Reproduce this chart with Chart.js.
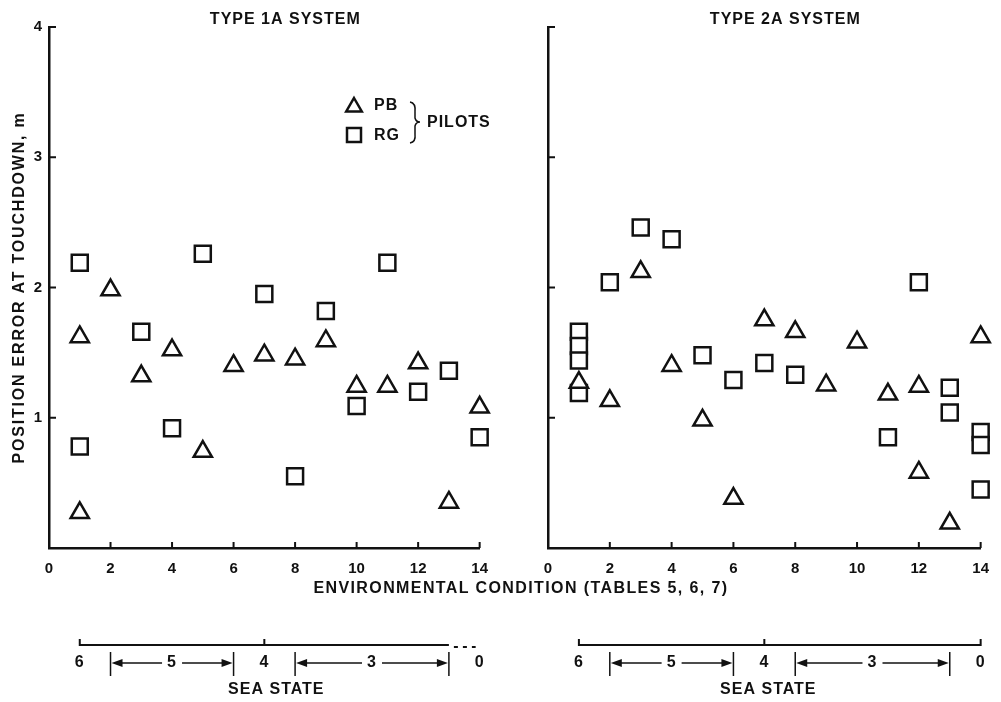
<!DOCTYPE html>
<html>
<head>
<meta charset="utf-8">
<script src="https://cdn.jsdelivr.net/npm/chart.js@4.4.1/dist/chart.umd.min.js"></script>
<style>
  body { margin: 0; background: #fff; }
  #wrap { position: relative; width: 1001px; height: 702px; overflow: hidden; background: #fff; }
  canvas { position: absolute; top: 0; }
  #xTitle { position: absolute; left: 0; width: 1042px; top: 579px; text-align: center;
            font: bold 16px "Liberation Sans", sans-serif; letter-spacing: 1.4px; color: #111; line-height: 18px; }
</style>
</head>
<body>
<div id="wrap">
  <canvas id="leftChart" width="500" height="702" style="left:0"></canvas>
  <canvas id="rightChart" width="501" height="702" style="left:500px"></canvas>
  <div id="xTitle">ENVIRONMENTAL CONDITION (TABLES 5, 6, 7)</div>
</div>
<script>
// tick values shared by both panels
const xTicks = [0, 2, 4, 6, 8, 10, 12, 14];
const yTicks = [0, 1, 2, 3, 4];
const panelTitles = ['TYPE 1A SYSTEM', 'TYPE 2A SYSTEM'];
const yTitle = 'POSITION ERROR AT TOUCHDOWN, m';
const seriesNames = ['PB', 'RG'];

// Type 1A system
const type1PbX = [1, 1, 2, 3, 4, 5, 6, 7, 8, 9, 10, 11, 12, 13, 14];
const type1PbY = [1.62, 0.27, 1.98, 1.32, 1.52, 0.74, 1.40, 1.48, 1.45, 1.59, 1.24, 1.24, 1.42, 0.35, 1.08];
const type1RgX = [1, 1, 3, 4, 5, 7, 8, 9, 10, 11, 12, 13, 14];
const type1RgY = [2.19, 0.78, 1.66, 0.92, 2.26, 1.95, 0.55, 1.82, 1.09, 2.19, 1.20, 1.36, 0.85];

// Type 2A system
const type2PbX = [1, 2, 3, 4, 5, 6, 7, 8, 9, 10, 11, 12, 12, 13, 14];
const type2PbY = [1.27, 1.13, 2.12, 1.40, 0.98, 0.38, 1.75, 1.66, 1.25, 1.58, 1.18, 1.24, 0.58, 0.19, 1.62];
const type2RgX = [1, 1, 1, 1, 2, 3, 4, 5, 6, 7, 8, 11, 12, 13, 13, 14, 14, 14];
const type2RgY = [1.66, 1.55, 1.44, 1.19, 2.04, 2.46, 2.37, 1.48, 1.29, 1.42, 1.33, 0.85, 2.04, 1.23, 1.04, 0.89, 0.79, 0.45];

// sea state scale under each panel (in environmental condition units)
const seaStateMarks = [{ label: '6', at: 1 }, { label: '4', at: 7 }, { label: '0', at: 14 }];
const seaStateRanges = [{ label: '5', from: 2, to: 6 }, { label: '3', from: 8, to: 13 }];

const ink = '#111';
const boldFont = 'bold 16px "Liberation Sans", sans-serif';

function toPoints(xs, ys) {
  return xs.map((v, i) => ({ x: v, y: ys[i] }));
}

function line(ctx, x1, y1, x2, y2) {
  ctx.beginPath();
  ctx.moveTo(x1, y1);
  ctx.lineTo(x2, y2);
  ctx.stroke();
}

function drawTriangle(ctx, x, y, r) {
  ctx.beginPath();
  ctx.moveTo(x, y - r);
  ctx.lineTo(x + r * 0.866, y + r / 2);
  ctx.lineTo(x - r * 0.866, y + r / 2);
  ctx.closePath();
  ctx.stroke();
}

function drawSeaState(ctx, x, dashedEnd, captionShift) {
  const p = v => x.getPixelForValue(v);
  const by = 645, ly = 663;
  ctx.lineWidth = 2;
  ctx.beginPath();
  ctx.moveTo(p(1), by - 6);
  ctx.lineTo(p(1), by);
  if (dashedEnd) {
    ctx.lineTo(p(13), by);
  } else {
    ctx.lineTo(p(14), by);
    ctx.lineTo(p(14), by - 6);
  }
  ctx.moveTo(p(7), by);
  ctx.lineTo(p(7), by - 6);
  ctx.stroke();
  if (dashedEnd) {
    ctx.setLineDash([4, 5]);
    line(ctx, p(13) + 5, by + 2, p(14) - 4, by + 2);
    ctx.setLineDash([]);
  }

  ctx.font = boldFont;
  ctx.letterSpacing = '1px';
  ctx.textAlign = 'center';
  ctx.textBaseline = 'middle';
  seaStateMarks.forEach(m => ctx.fillText(m.label, p(m.at), ly));

  seaStateRanges.forEach(r => {
    const a = p(r.from), b = p(r.to), mid = (a + b) / 2;
    ctx.lineWidth = 1.5;
    line(ctx, a, 652, a, 676);
    line(ctx, b, 652, b, 676);
    line(ctx, a + 8, ly, mid - 10, ly);
    line(ctx, mid + 10, ly, b - 8, ly);
    ctx.beginPath();
    ctx.moveTo(a + 1, ly); ctx.lineTo(a + 12, ly - 4); ctx.lineTo(a + 12, ly + 4); ctx.closePath();
    ctx.moveTo(b - 1, ly); ctx.lineTo(b - 12, ly - 4); ctx.lineTo(b - 12, ly + 4); ctx.closePath();
    ctx.fill();
    ctx.fillText(r.label, mid, ly);
  });

  ctx.fillText('SEA STATE', p(7) + captionShift, 690);
}

const panelDecor = {
  id: 'panelDecor',
  afterDraw(chart, args, opts) {
    const ctx = chart.ctx;
    const x = chart.scales.x, y = chart.scales.y, area = chart.chartArea;
    ctx.save();
    ctx.strokeStyle = ink;
    ctx.fillStyle = ink;

    // inward tick marks
    ctx.lineWidth = 2;
    xTicks.forEach(v => {
      if (v === 0) return;
      const px = x.getPixelForValue(v);
      line(ctx, px, area.bottom, px, area.bottom - 6);
    });
    yTicks.forEach(v => {
      if (v === 0) return;
      const py = y.getPixelForValue(v);
      line(ctx, area.left, py, area.left + 7, py);
    });

    // panel title (sits a little right of the panel centre in the original)
    ctx.font = boldFont;
    ctx.letterSpacing = '1px';
    ctx.textAlign = 'center';
    ctx.textBaseline = 'middle';
    ctx.fillText(opts.title, (area.left + area.right) / 2 + 21, 20);

    // y axis title (letter spaced, so drawn here)
    if (opts.showYTitle) {
      ctx.save();
      ctx.translate(20, (area.top + area.bottom) / 2);
      ctx.rotate(-Math.PI / 2);
      ctx.letterSpacing = '1.8px';
      ctx.fillText(yTitle, 0, 0);
      ctx.restore();
    }

    // legend
    if (opts.showLegend) {
      ctx.lineWidth = 2.5;
      drawTriangle(ctx, 354, 107, 9);
      ctx.strokeRect(347, 128, 14, 14);
      ctx.textAlign = 'left';
      ctx.fillText(seriesNames[0], 374, 106);
      ctx.fillText(seriesNames[1], 374, 136);
      ctx.lineWidth = 1.5;
      ctx.beginPath();
      ctx.moveTo(410, 102);
      ctx.quadraticCurveTo(416, 103, 415, 112);
      ctx.lineTo(415, 118);
      ctx.quadraticCurveTo(416, 122, 420, 122);
      ctx.quadraticCurveTo(416, 122, 415, 126);
      ctx.lineTo(415, 134);
      ctx.quadraticCurveTo(416, 142, 410, 143);
      ctx.stroke();
      ctx.fillText('PILOTS', 427, 123);
    }

    drawSeaState(ctx, x, opts.dashedEnd, opts.captionShift);
    ctx.restore();
  }
};

function makeChart(id, pbX, pbY, rgX, rgY, isLeft) {
  const markerStyle = {
    pointBackgroundColor: '#fff',
    pointBorderColor: ink,
    pointBorderWidth: 2.5,
    clip: false
  };
  return new Chart(document.getElementById(id), {
    type: 'scatter',
    data: {
      datasets: [
        Object.assign({ label: seriesNames[0], data: toPoints(pbX, pbY), pointStyle: 'triangle', pointRadius: 10.5 }, markerStyle),
        Object.assign({ label: seriesNames[1], data: toPoints(rgX, rgY), pointStyle: 'rect', pointRadius: 11.3 }, markerStyle)
      ]
    },
    options: {
      responsive: false,
      animation: false,
      events: [],
      layout: { padding: { left: isLeft ? 0 : 48, right: isLeft ? 13 : 11, top: 27, bottom: 124 } },
      plugins: {
        legend: { display: false },
        tooltip: { enabled: false },
        panelDecor: {
          title: isLeft ? panelTitles[0] : panelTitles[1],
          showLegend: isLeft,
          showYTitle: isLeft,
          dashedEnd: isLeft,
          captionShift: isLeft ? 12 : 4
        }
      },
      scales: {
        x: {
          type: 'linear',
          min: 0,
          max: 14,
          grid: { display: false, drawTicks: false },
          border: { display: true, color: ink, width: 2.5 },
          ticks: { stepSize: 2, padding: 12, color: ink, font: { family: 'Liberation Sans', size: 15, weight: 'bold' } },
          afterFit: s => { s.height = 30; }
        },
        y: {
          min: 0,
          max: 4,
          grid: { display: false, drawTicks: false },
          border: { display: true, color: ink, width: 2.5 },
          ticks: {
            display: isLeft,
            stepSize: 1,
            padding: 7,
            color: ink,
            font: { family: 'Liberation Sans', size: 15, weight: 'bold' },
            callback: v => (v === 0 ? '' : v)
          },
          afterFit: s => { s.width = isLeft ? 49 : 0; }
        }
      }
    },
    plugins: [panelDecor]
  });
}

makeChart('leftChart', type1PbX, type1PbY, type1RgX, type1RgY, true);
makeChart('rightChart', type2PbX, type2PbY, type2RgX, type2RgY, false);
</script>
</body>
</html>
